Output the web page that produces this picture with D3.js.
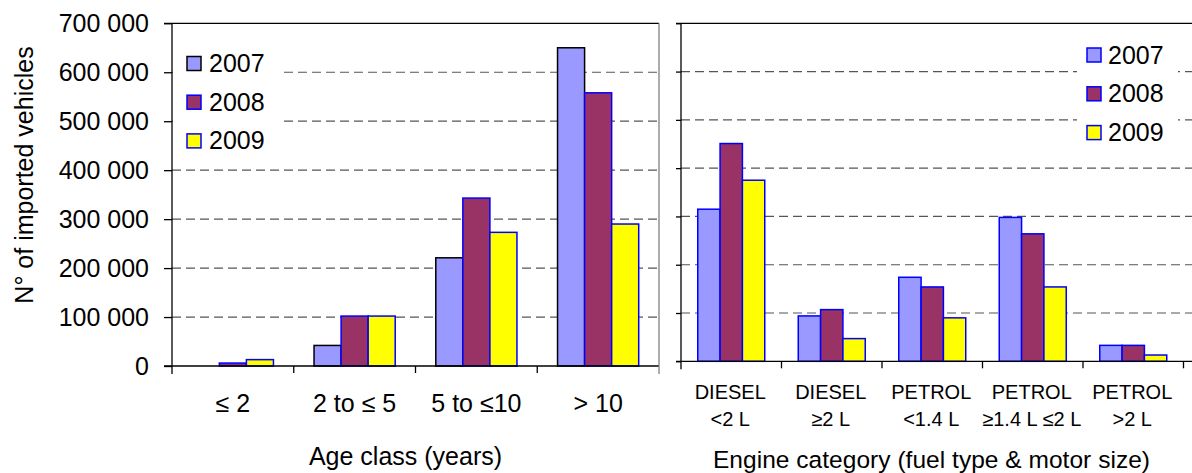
<!DOCTYPE html>
<html><head><meta charset="utf-8">
<script src="https://cdn.jsdelivr.net/npm/d3@7"></script>
<style>
html,body{margin:0;padding:0;background:#fff;}
svg{display:block;font-family:"Liberation Sans",Arial,Helvetica,sans-serif;}
</style></head>
<body><svg id="c" width="1192" height="473"></svg>
<script>
// ---- data ----
const years = ["2007", "2008", "2009"];
const ageCategories = ["≤ 2", "2 to ≤ 5", "5 to ≤10", "> 10"];
const age2007 = [0, 42000, 221000, 650000];
const age2008 = [6000, 102000, 343000, 558000];
const age2009 = [13000, 102000, 273000, 290000];
const engineCategories = ["DIESEL|<2 L", "DIESEL|≥2 L", "PETROL|<1.4 L", "PETROL|≥1.4 L ≤2 L", "PETROL|>2 L"];
const eng2007 = [315000, 94000, 174000, 298000, 33000];
const eng2008 = [451000, 107000, 154000, 264000, 33000];
const eng2009 = [375000, 47000, 90000, 154000, 13000];
const yTicks = [0, 100000, 200000, 300000, 400000, 500000, 600000, 700000];
const yTitle = "N° of imported vehicles";
const ageTitle = "Age class (years)";
const engineTitle = "Engine category (fuel type & motor size)";

const fills = {"2007": "#9999FF", "2008": "#993366", "2009": "#FFFF00"};
const fmt = d3.formatLocale({decimal: ".", thousands: " ", grouping: [3], currency: ["", ""]}).format(",");

const svg = d3.select("#c");
const FONT = 25;

function panel(opts) {
  const {x0, x1, yTop, yBase, cats, series, strokes, tickLen, xExtend, labelFn, showTickLabels, rightBorder} = opts;
  const g = svg.append("g");
  const y = d3.scaleLinear().domain([0, 700000]).range([yBase, yTop]);
  const x = d3.scaleBand().domain(cats).range([x0, x1]).padding(0);
  const cw = x.bandwidth();
  const xs = d3.scaleBand().domain(years).range([cw / 6, cw * 5 / 6]).padding(0);

  // gridlines
  g.append("g").selectAll("line").data(yTicks.filter(v => v > 0 && v < 700000)).join("line")
    .attr("x1", x0).attr("x2", xExtend).attr("y1", d => y(d)).attr("y2", d => y(d))
    .attr("stroke", "#555").attr("stroke-width", 1.2).attr("stroke-dasharray", "9,5");

  // legend background + legend
  const lg = opts.legend;
  g.append("rect").attr("x", lg.bx).attr("y", lg.by).attr("width", lg.bw).attr("height", lg.bh).attr("fill", "#fff");

  // bars
  years.forEach((yr, si) => {
    g.append("g").selectAll("rect").data(series[si]).join("rect")
      .attr("x", (d, i) => x(cats[i]) + xs(yr))
      .attr("width", xs.bandwidth())
      .attr("y", d => y(d))
      .attr("height", d => y(0) - y(d))
      .attr("fill", fills[yr])
      .attr("stroke", d => d > 0 ? strokes[si] : "none")
      .attr("stroke-width", 1.5);
  });

  // axes: left
  const ax = d3.axisLeft(y).tickValues(yTicks).tickSize(tickLen).tickSizeOuter(0)
    .tickPadding(15).tickFormat(showTickLabels ? fmt : () => "");
  const axg = g.append("g").attr("transform", `translate(${x0},0)`).call(ax);
  axg.select(".domain").remove();
  axg.selectAll("line").attr("stroke", "#000").attr("stroke-width", 1.3);
  axg.selectAll("text").attr("font-size", FONT).attr("fill", "#000")
    .attr("font-family", '"Liberation Sans",Arial,sans-serif');

  // plot lines
  g.append("line").attr("x1", x0).attr("x2", x0).attr("y1", yTop).attr("y2", yBase + 8)
    .attr("stroke", "#000").attr("stroke-width", 1.3);
  g.append("line").attr("x1", x0 - tickLen).attr("x2", xExtend).attr("y1", yTop).attr("y2", yTop)
    .attr("stroke", "#000").attr("stroke-width", 1.3);
  g.append("line").attr("x1", x0 - tickLen).attr("x2", xExtend).attr("y1", yBase).attr("y2", yBase)
    .attr("stroke", "#000").attr("stroke-width", 1.3);
  if (rightBorder) {
    g.append("line").attr("x1", x1).attr("x2", x1).attr("y1", yTop).attr("y2", yBase + 8)
      .attr("stroke", "#808080").attr("stroke-width", 1.3);
  }
  // category boundary ticks
  g.append("g").selectAll("line").data(cats.slice(1).map(c => x(c)).concat(rightBorder ? [] : [x1])).join("line")
    .attr("x1", d => d).attr("x2", d => d).attr("y1", yBase).attr("y2", yBase + 7)
    .attr("stroke", "#000").attr("stroke-width", 1.3);

  // category labels
  labelFn(g, x, cw);

  // legend items
  years.forEach((yr, i) => {
    const ly = lg.sy + i * lg.step;
    g.append("rect").attr("x", lg.sx).attr("y", ly).attr("width", 14).attr("height", 14)
      .attr("fill", fills[yr]).attr("stroke", lg.strokes[i]).attr("stroke-width", 1.5);
    g.append("text").attr("x", lg.tx).attr("y", ly + 15.5).attr("font-size", FONT).text(yr);
  });
  return {g, x, y};
}

// left panel
panel({
  x0: 172, x1: 659, yTop: 23.3, yBase: 366, cats: ageCategories,
  series: [age2007, age2008, age2009], strokes: ["#000", "#0000FF", "#0000FF"],
  tickLen: 8, xExtend: 659, showTickLabels: true, rightBorder: true,
  legend: {bx: 173, by: 40, bw: 107, bh: 120, sx: 187, sy: 56.5, step: 38.7, tx: 209,
           strokes: ["#000", "#0000FF", "#0000FF"]},
  labelFn: (g, x, cw) => {
    g.append("g").selectAll("text").data(ageCategories).join("text")
      .attr("x", d => x(d) + cw / 2).attr("y", 412).attr("text-anchor", "middle")
      .attr("font-size", FONT).text(d => d);
  }
});

// right panel
panel({
  x0: 681, x1: 1183.5, yTop: 23.3, yBase: 361.3, cats: engineCategories,
  series: [eng2007, eng2008, eng2009], strokes: ["#0000FF", "#0000FF", "#0000FF"],
  tickLen: 5, xExtend: 1192, showTickLabels: false, rightBorder: false,
  legend: {bx: 1077, by: 35, bw: 101, bh: 118, sx: 1087, sy: 48, step: 38.8, tx: 1108,
           strokes: ["#0000FF", "#0000FF", "#0000FF"]},
  labelFn: (g, x, cw) => {
    const t = g.append("g").selectAll("text").data(engineCategories).join("text")
      .attr("text-anchor", "middle").attr("font-size", 20);
    t.append("tspan").attr("x", d => x(d) + cw / 2 - 1).attr("y", 399.3).text(d => d.split("|")[0]);
    t.append("tspan").attr("x", d => x(d) + cw / 2 - 1).attr("y", 426).text(d => d.split("|")[1]);
  }
});

// titles
svg.append("text").attr("transform", "translate(33,175) rotate(-90)").attr("text-anchor", "middle")
  .attr("font-size", FONT).text(yTitle);
svg.append("text").attr("x", 405.5).attr("y", 465).attr("text-anchor", "middle")
  .attr("font-size", FONT).text(ageTitle);
svg.append("text").attr("x", 931.5).attr("y", 468).attr("text-anchor", "middle")
  .attr("font-size", 24.5).attr("textLength", 437).text(engineTitle);
</script></body></html>
